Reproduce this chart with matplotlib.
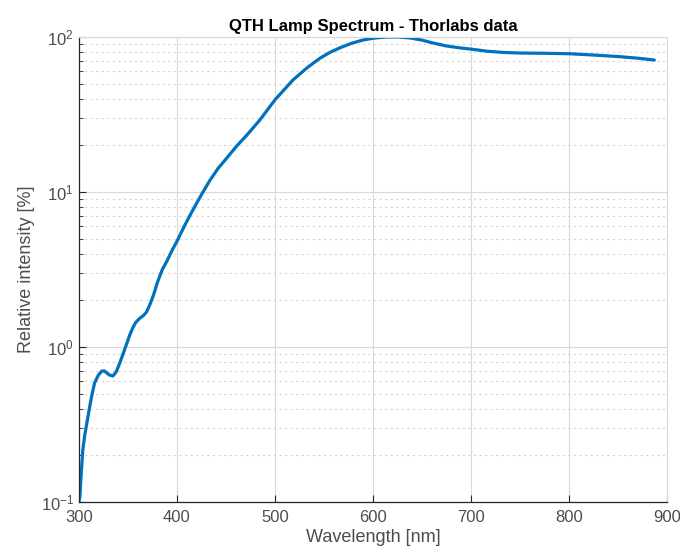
import matplotlib
matplotlib.use("Agg")
import matplotlib.pyplot as plt
from matplotlib.ticker import LogLocator, NullFormatter

plt.rcParams['font.family'] = ['Liberation Sans', 'DejaVu Sans']
plt.rcParams['mathtext.fontset'] = 'custom'
plt.rcParams['mathtext.rm'] = 'Liberation Sans'

# spectrum
wavelength = [300, 301, 302, 304, 306, 308, 311, 313, 316, 320, 323.5, 326, 328.6,
              331, 334.7, 338, 341.8, 345, 349, 352, 355, 358, 362, 366, 369, 372, 376,
              380, 385, 390, 395, 400, 408, 416.3, 425, 433.7, 442, 451, 461,
              471.4, 484.7, 500, 518.4, 533, 546, 556, 566, 578, 590, 602, 614,
              626, 638, 650, 661, 675, 689, 700, 716, 733, 750, 775, 800, 825,
              850, 870, 887]
intensity = [0.1, 0.108, 0.14, 0.216, 0.27, 0.32, 0.41, 0.48, 0.586, 0.66, 0.70, 0.70, 0.68,
             0.66, 0.65, 0.69, 0.79, 0.9, 1.06, 1.2, 1.33, 1.44, 1.53, 1.6, 1.68, 1.85, 2.15,
             2.6, 3.15, 3.6, 4.2, 4.8, 6.1, 7.66, 9.6, 11.9, 14.2, 16.6, 19.8,
             23.3, 29.2, 39.3, 52.8, 63.5, 73, 79.5, 85, 91, 95.7, 98.5, 100,
             100, 98.5, 95.5, 91.5, 87.5, 85, 83.5, 81, 79.5, 78.8, 78.5, 78, 76.5,
             74.8, 73, 71]

fig = plt.figure(figsize=(6.8, 5.58), dpi=100)
ax = fig.add_axes([0.116, 0.1004, 0.865, 0.8333])

ax.semilogy(wavelength, intensity, color='#0072BD', linewidth=2.3,
            solid_joinstyle='round', solid_capstyle='round')

ax.set_xlim(300, 900)
ax.set_ylim(0.1, 100)
ax.set_xticks(range(300, 901, 100))
ax.yaxis.set_major_locator(LogLocator(base=10, numticks=10))
ax.yaxis.set_minor_locator(LogLocator(base=10, subs=range(2, 10), numticks=10))
ax.yaxis.set_minor_formatter(NullFormatter())

ax.grid(True, which='major', color='#d9d9d9', linewidth=0.8, linestyle='-')
ax.grid(True, which='minor', axis='y', color='#d4d4d4', linewidth=0.8, linestyle=(0, (2, 3)))

for side in ['top', 'right']:
    ax.spines[side].set_color('#d9d9d9')
    ax.spines[side].set_linewidth(0.8)
for side in ['left', 'bottom']:
    ax.spines[side].set_color('#262626')
    ax.spines[side].set_linewidth(0.9)

ax.tick_params(which='both', direction='in', colors='#262626', labelcolor='#4d4d4d',
               labelsize=12, top=False, right=False)
ax.tick_params(which='major', length=5)
ax.tick_params(which='minor', length=3)
ax.tick_params(axis='x', pad=6)

ax.set_xlabel("Wavelength [nm]", fontsize=13, color='#4d4d4d', labelpad=3)
ax.set_ylabel("Relative intensity [%]", fontsize=13, color='#4d4d4d', labelpad=4)
ax.set_title("QTH Lamp Spectrum - Thorlabs data", fontsize=12, fontweight='bold', pad=4)

fig.savefig("out.png", dpi=100)
